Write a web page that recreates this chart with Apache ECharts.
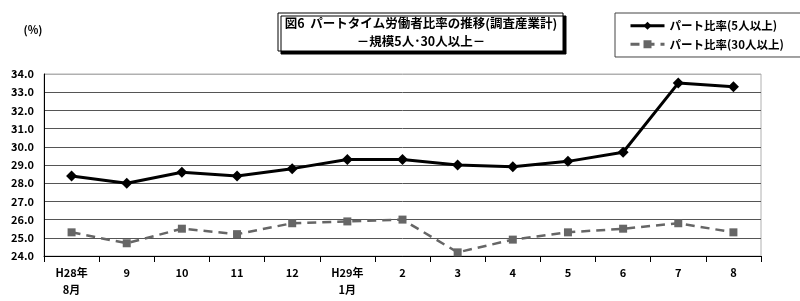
<!DOCTYPE html>
<html><head><meta charset="utf-8">
<script src="https://cdn.jsdelivr.net/npm/echarts@6/dist/echarts.min.js"></script>
<style>html,body{margin:0;padding:0;background:#fff}#c{width:800px;height:301px}</style>
</head><body><div id="c"></div>
<script>
const categories = ['H28年\n8月','9','10','11','12','H29年\n1月','2','3','4','5','6','7','8'];
const part5 = [28.4, 28.0, 28.6, 28.4, 28.8, 29.3, 29.3, 29.0, 28.9, 29.2, 29.7, 33.5, 33.3];
const part30 = [25.3, 24.7, 25.5, 25.2, 25.8, 25.9, 26.0, 24.2, 24.9, 25.3, 25.5, 25.8, 25.3];
const seriesNames = ['パート比率(5人以上)', 'パート比率(30人以上)'];
const titleLines = ['図6  パートタイム労働者比率の推移(調査産業計)', '－規模5人･30人以上－'];
const FONT = '"Noto Sans CJK JP", "Noto Sans", sans-serif';

const chart = echarts.init(document.getElementById('c'), null, {renderer: 'canvas'});
chart.setOption({
  animation: false,
  textStyle: {fontFamily: FONT},
  grid: {left: 44, right: 39, top: 74, bottom: 45, show: true, borderColor: '#b0b0b0', borderWidth: 1},
  xAxis: {
    type: 'category', data: categories, boundaryGap: true,
    axisLine: {lineStyle: {color: '#000', width: 1}},
    axisTick: {show: true, length: 6, lineStyle: {color: '#000'}},
    axisLabel: {color: '#000', fontSize: 11, fontWeight: 'bold', fontFamily: FONT, margin: 8, lineHeight: 17}
  },
  yAxis: {
    type: 'value', min: 24, max: 34, interval: 1,
    axisLine: {show: true, lineStyle: {color: '#000'}},
    axisTick: {show: false},
    splitLine: {lineStyle: {color: ['#000','#555','#555','#555','#555','#555','#555','#555','#555','#555','#b0b0b0'], width: 1}},
    axisLabel: {color: '#000', fontSize: 11, fontWeight: 'bold', fontFamily: FONT, margin: 10,
      formatter: v => v.toFixed(1)}
  },
  legend: {
    orient: 'vertical', left: 615, top: 13, width: 177,
    padding: [7, 20, 7, 14], itemGap: 7, itemWidth: 34, itemHeight: 10,
    borderColor: '#444', borderWidth: 1, backgroundColor: '#fff',
    textStyle: {color: '#000', fontSize: 11.5, fontWeight: 'bold', fontFamily: FONT},
    data: [
      {name: seriesNames[0], lineStyle: {width: 3, color: '#000'}},
      {name: seriesNames[1], lineStyle: {width: 3, color: '#666'}}
    ]
  },
  series: [
    {name: seriesNames[0], type: 'line', data: part5, symbol: 'diamond', symbolSize: 11,
     itemStyle: {color: '#000'}, lineStyle: {color: '#000', width: 3}},
    {name: seriesNames[1], type: 'line', data: part30, symbol: 'rect', symbolSize: 8,
     itemStyle: {color: '#666'}, lineStyle: {color: '#666', width: 2.5, type: [9, 6]}}
  ],
  graphic: [
    {type: 'rect', shape: {x: 278, y: 13, width: 285, height: 38},
     style: {fill: '#fff', stroke: '#000', lineWidth: 1, shadowColor: '#000', shadowOffsetX: 3, shadowOffsetY: 3, shadowBlur: 0}},
    {type: 'text', x: 421, y: 23, style: {text: titleLines[0], fill: '#000', font: 'bold 12.5px ' + FONT, align: 'center', verticalAlign: 'middle'}},
    {type: 'text', x: 421, y: 41, style: {text: titleLines[1], fill: '#000', font: 'bold 12.5px ' + FONT, align: 'center', verticalAlign: 'middle'}},
    {type: 'text', x: 33, y: 30, style: {text: '(%)', fill: '#000', font: 'bold 11px ' + FONT, align: 'center', verticalAlign: 'middle'}}
  ]
});
</script></body></html>
